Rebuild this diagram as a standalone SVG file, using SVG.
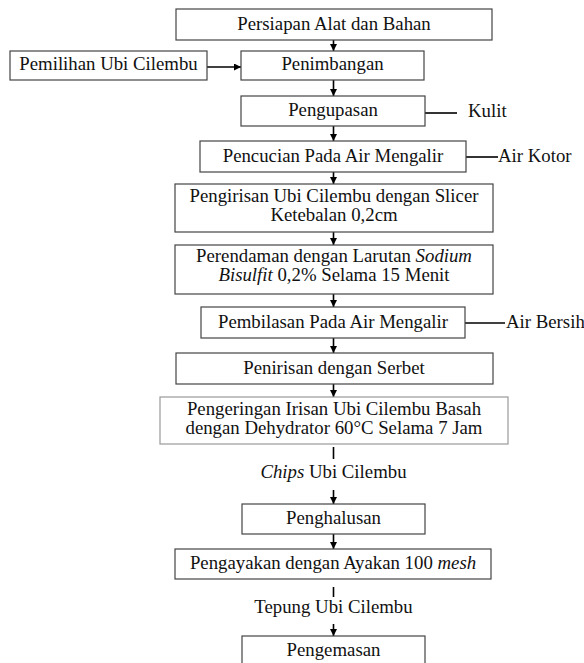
<svg xmlns="http://www.w3.org/2000/svg" width="584" height="663" viewBox="0 0 584 663" font-family="'Liberation Serif', 'Times New Roman', 'DejaVu Serif', serif">
<defs>
<style>
text{font-family:'Liberation Serif','Times New Roman','DejaVu Serif',serif;font-size:18.8px;fill:#111}
.c{text-anchor:middle}
.i{font-style:italic}
.box{fill:#fff;stroke:#444;stroke-width:1.2}
.lt{stroke:#999}
.ln{stroke:#000;stroke-width:1.6;fill:none}
</style>
<marker id="ah" markerUnits="userSpaceOnUse" markerWidth="8" markerHeight="7" refX="7" refY="3.5" orient="auto">
<path d="M0,0 L7,3.5 L0,7 Z" fill="#000"/>
</marker>
</defs>
<rect width="584" height="663" fill="#fff"/>
<g id="connectors">
<line class="ln" x1="333.5" y1="40" x2="333.5" y2="51" marker-end="url(#ah)"/>
<line class="ln" x1="207" y1="67" x2="241" y2="67" marker-end="url(#ah)"/>
<line class="ln" x1="333.5" y1="80" x2="333.5" y2="96" marker-end="url(#ah)"/>
<line class="ln" x1="333.5" y1="126" x2="333.5" y2="141" marker-end="url(#ah)"/>
<line class="ln" x1="333.5" y1="172" x2="333.5" y2="184" marker-end="url(#ah)"/>
<line class="ln" x1="333.5" y1="232" x2="333.5" y2="245" marker-end="url(#ah)"/>
<line class="ln" x1="333.5" y1="294" x2="333.5" y2="307" marker-end="url(#ah)"/>
<line class="ln" x1="333.5" y1="338" x2="333.5" y2="353" marker-end="url(#ah)"/>
<line class="ln" x1="333.5" y1="384" x2="333.5" y2="397" marker-end="url(#ah)"/>
<line class="ln" x1="333.5" y1="447" x2="333.5" y2="459"/>
<line class="ln" x1="333.5" y1="490" x2="333.5" y2="504" marker-end="url(#ah)"/>
<line class="ln" x1="333.5" y1="534" x2="333.5" y2="549" marker-end="url(#ah)"/>
<line class="ln" x1="333.5" y1="587" x2="333.5" y2="597"/>
<line class="ln" x1="333.5" y1="624" x2="333.5" y2="636" marker-end="url(#ah)"/>
<line class="ln" x1="425" y1="113" x2="457" y2="113"/>
<line class="ln" x1="466" y1="157" x2="498" y2="157"/>
<line class="ln" x1="465" y1="323" x2="505" y2="323"/>
</g>
<g id="n-persiapan"><rect class="box" x="176" y="9" width="316" height="31"/><text class="c" x="334" y="29.5">Persiapan Alat dan Bahan</text></g>
<g id="n-pemilihan"><rect class="box" x="10" y="51" width="197" height="29"/><text class="c" x="108.5" y="70">Pemilihan Ubi Cilembu</text></g>
<g id="n-penimbangan"><rect class="box" x="241" y="51" width="183" height="29"/><text class="c" x="332.5" y="70">Penimbangan</text></g>
<g id="n-pengupasan"><rect class="box" x="241" y="96" width="184" height="30"/><text class="c" x="333" y="116">Pengupasan</text></g>
<g id="n-kulit"><text x="468" y="117">Kulit</text></g>
<g id="n-pencucian"><rect class="box" x="200" y="141" width="266" height="31"/><text class="c" x="333" y="161.5">Pencucian Pada Air Mengalir</text></g>
<g id="n-airkotor"><text x="498" y="162">Air Kotor</text></g>
<g id="n-pengirisan"><rect class="box" x="175" y="184" width="318" height="48"/><text class="c" x="334" y="202">Pengirisan Ubi Cilembu dengan Slicer<tspan x="334" dy="19">Ketebalan 0,2cm</tspan></text></g>
<g id="n-perendaman"><rect class="box" x="175" y="245" width="318" height="49"/><text class="c" x="334" y="262">Perendaman dengan Larutan <tspan class="i">Sodium</tspan><tspan x="334" dy="19"><tspan class="i">Bisulfit</tspan> 0,2% Selama 15 Menit</tspan></text></g>
<g id="n-pembilasan"><rect class="box" x="201" y="307" width="264" height="31"/><text class="c" x="333" y="327.5">Pembilasan Pada Air Mengalir</text></g>
<g id="n-airbersih"><text x="506" y="328">Air Bersih</text></g>
<g id="n-penirisan"><rect class="box" x="176" y="353" width="317" height="31"/><text class="c" x="334" y="374">Penirisan dengan Serbet</text></g>
<g id="n-pengeringan"><rect class="box lt" x="160" y="397" width="348" height="47"/><text class="c" x="334" y="415">Pengeringan Irisan Ubi Cilembu Basah<tspan x="334" dy="19">dengan Dehydrator 60°C Selama 7 Jam</tspan></text></g>
<g id="n-chips"><text class="c" x="333.5" y="478"><tspan class="i">Chips</tspan> Ubi Cilembu</text></g>
<g id="n-penghalusan"><rect class="box" x="242" y="504" width="183" height="30"/><text class="c" x="333.5" y="523.5">Penghalusan</text></g>
<g id="n-pengayakan"><rect class="box" x="175" y="549" width="316" height="30"/><text class="c" x="333" y="568.5">Pengayakan dengan Ayakan 100 <tspan class="i">mesh</tspan></text></g>
<g id="n-tepung"><text class="c" x="333.5" y="613">Tepung Ubi Cilembu</text></g>
<g id="n-pengemasan"><rect class="box" x="242" y="636" width="183" height="30"/><text class="c" x="333.5" y="655.5">Pengemasan</text></g>
</svg>
